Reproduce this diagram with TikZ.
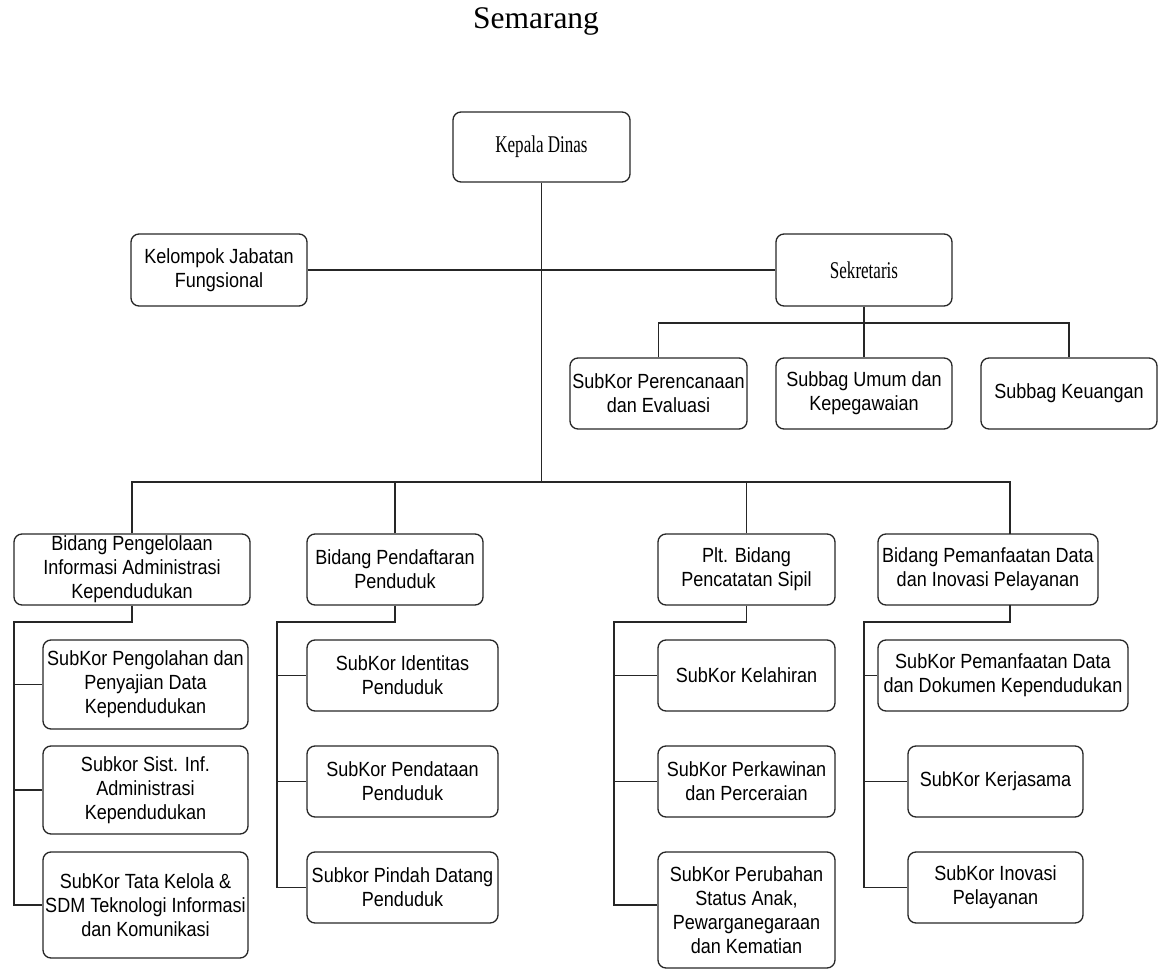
\documentclass[tikz,border=0pt]{standalone}
\usepackage{fontspec}
\newfontfamily\sansbox[FakeStretch=0.88]{Liberation Sans}
\newfontfamily\serifbox[FakeStretch=0.71]{Liberation Serif}
\newfontfamily\titlefont{Liberation Serif}
\begin{document}
\begin{tikzpicture}[x=1pt,y=-1pt,
  box/.style={draw=black!85, line width=1.3pt, rounded corners=8pt, align=center, inner sep=0pt,
    font=\sansbox\fontsize{20.5pt}{24pt}\selectfont},
  sbox/.style={box, font=\serifbox\fontsize{24pt}{28pt}\selectfont},
  conn/.style={draw=black!85, line width=1.3pt}]
\useasboundingbox (0,0) rectangle (1163,973);
\node[anchor=base, font=\titlefont\fontsize{31.5pt}{36pt}\selectfont] (title) at (536,29) {Semarang};

% top levels
\node[sbox, minimum width=177pt, minimum height=70pt] (kd) at (541.5,147) {Kepala Dinas};
\node[box, minimum width=176pt, minimum height=72pt] (kjf) at (219,270) {Kelompok Jabatan\\Fungsional};
\node[sbox, minimum width=176pt, minimum height=72pt] (sek) at (864,270) {Sekretaris};

\node[box, minimum width=177pt, minimum height=71pt] (sp) at (658.5,393.5) {SubKor Perencanaan\\dan Evaluasi};
\node[box, minimum width=176pt, minimum height=71pt] (su) at (864,393.5) {Subbag Umum dan\\Kepegawaian};
\node[box, minimum width=176pt, minimum height=71pt] (sk) at (1069,393.5) {Subbag Keuangan};

% bidang
\node[box, minimum width=236pt, minimum height=71pt] (b1) at (132,569.5) {Bidang Pengelolaan\\Informasi Administrasi\\Kependudukan};
\node[box, minimum width=176pt, minimum height=71pt] (b2) at (395,569.5) {Bidang Pendaftaran\\Penduduk};
\node[box, minimum width=177pt, minimum height=71pt] (b3) at (746.5,569.5) {Plt. Bidang\\Pencatatan Sipil};
\node[box, minimum width=220pt, minimum height=71pt] (b4) at (988,569.5) {Bidang Pemanfaatan Data\\dan Inovasi Pelayanan};

% column 1
\node[box, minimum width=205pt, minimum height=89pt] (c1a) at (145.5,684.5) {SubKor Pengolahan dan\\Penyajian Data\\Kependudukan};
\node[box, minimum width=205pt, minimum height=88pt] (c1b) at (145.5,790) {Subkor Sist. Inf.\\Administrasi\\Kependudukan};
\node[box, minimum width=205pt, minimum height=106pt] (c1c) at (145.5,905) {SubKor Tata Kelola \&\\SDM Teknologi Informasi\\dan Komunikasi};
% column 2
\node[box, minimum width=191pt, minimum height=71pt] (c2a) at (402.5,675.5) {SubKor Identitas\\Penduduk};
\node[box, minimum width=191pt, minimum height=71pt] (c2b) at (402.5,781.5) {SubKor Pendataan\\Penduduk};
\node[box, minimum width=191pt, minimum height=71pt] (c2c) at (402.5,887.5) {Subkor Pindah Datang\\Penduduk};
% column 3
\node[box, minimum width=177pt, minimum height=71pt] (c3a) at (746.5,675.5) {SubKor Kelahiran};
\node[box, minimum width=177pt, minimum height=71pt] (c3b) at (746.5,781.5) {SubKor Perkawinan\\dan Perceraian};
\node[box, minimum width=177pt, minimum height=116pt] (c3c) at (746.5,910) {SubKor Perubahan\\Status Anak,\\Pewarganegaraan\\dan Kematian};
% column 4
\node[box, minimum width=250pt, minimum height=71pt] (c4a) at (1003,675.5) {SubKor Pemanfaatan Data\\dan Dokumen Kependudukan};
\node[box, minimum width=175pt, minimum height=71pt] (c4b) at (995.5,781.5) {SubKor Kerjasama};
\node[box, minimum width=175pt, minimum height=71pt] (c4c) at (995.5,887.5) {SubKor Inovasi\\Pelayanan};

% connectors
\coordinate (bus) at (541.5,482);
\coordinate (b4top) at (1010,534);
\coordinate (b4bot) at (1010,605);
\draw[conn] (kd.south) -- (bus);
\draw[conn] (kjf.east) -- (sek.west);
\draw[conn] (b1.north) |- (bus) -| (b4top);
\draw[conn] (b2.north) -- (b2.north |- bus);
\draw[conn] (b3.north) -- (b3.north |- bus);

\coordinate (sbus) at (864,323);
\draw[conn] (sek.south) -- (su.north);
\draw[conn] (sp.north) |- (sbus) -| (sk.north);

% column 1 links
\coordinate (v1) at (14,622);
\draw[conn] (b1.south) |- (v1) |- (c1c.west);
\draw[conn] (v1 |- c1a.west) -- (c1a.west);
\draw[conn] (v1 |- c1b.west) -- (c1b.west);
% column 2 links
\coordinate (v2) at (277,622);
\draw[conn] (b2.south) |- (v2) |- (c2c.west);
\draw[conn] (v2 |- c2a.west) -- (c2a.west);
\draw[conn] (v2 |- c2b.west) -- (c2b.west);
% column 3 links
\coordinate (v3) at (614,622);
\coordinate (c3cw) at (c3c.west |- 0,905);
\draw[conn] (b3.south) |- (v3) |- (c3cw);
\draw[conn] (v3 |- c3a.west) -- (c3a.west);
\draw[conn] (v3 |- c3b.west) -- (c3b.west);
% column 4 links
\coordinate (v4) at (864,622);
\draw[conn] (b4bot) |- (v4) |- (c4c.west);
\draw[conn] (v4 |- c4a.west) -- (c4a.west);
\draw[conn] (v4 |- c4b.west) -- (c4b.west);
\end{tikzpicture}
\end{document}
